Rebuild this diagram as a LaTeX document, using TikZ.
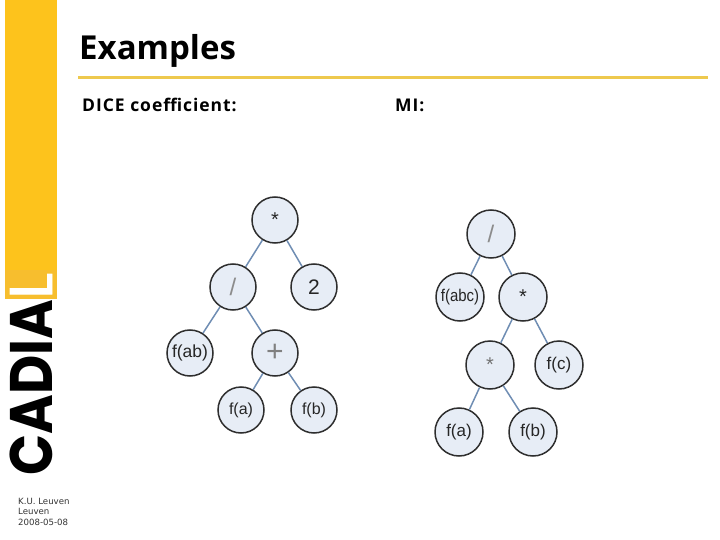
\documentclass[tikz,border=0pt]{standalone}
\usepackage{fontspec}
\setmainfont{Liberation Sans}
\newfontfamily\headfont{Open Sans}
\newfontfamily\bodyfont[LetterSpace=5.5]{Open Sans}
\newfontfamily\smallfont{DejaVu Sans}
\newfontfamily\logofont{Poppins}
\newfontfamily\logolight[FakeBold=1.6]{Poppins}
\definecolor{barY}{HTML}{FDC31C}
\definecolor{boxY}{HTML}{F7BE2E}
\definecolor{ruleY}{HTML}{EEC94E}
\definecolor{treeF}{HTML}{E7EDF6}
\definecolor{treeE}{HTML}{6F8DB3}
\definecolor{treeB}{HTML}{2E2E2E}
\tikzset{
  tnode/.style={circle,draw=treeB,line width=1.5pt,fill=treeF,minimum size=46pt,inner sep=0pt,text=black!85,font=\fontsize{16}{18}\selectfont},
  rnode/.style={tnode,minimum size=48pt,font=\fontsize{17}{19}\selectfont},
  tedge/.style={draw=treeE,line width=1.5pt},
  smalltext/.style={anchor=base west,inner sep=0pt,font=\smallfont\fontsize{8.6}{10}\selectfont,text=black!80},
  bodytext/.style={anchor=base west,inner sep=0pt,font=\bodyfont\bfseries\fontsize{17.5}{20}\selectfont}
}
\begin{document}
\begin{tikzpicture}[x=1pt,y=-1pt]
\useasboundingbox (0,0) rectangle (720,540);
\fill[barY] (5,0) rectangle (57,270);
\fill[boxY] (5,270) rectangle (57,299);
\draw[ruleY,line width=3pt] (78,78) -- (708,78);
\node[anchor=base west,inner sep=0pt,font=\headfont\bfseries\fontsize{33}{36}\selectfont] (title) at (79,60) {Examples};
\node[bodytext] (dice) at (82,112) {DICE coefficient:};
\node[bodytext] (mi) at (395,112) {MI:};
% logo
\node[anchor=base west,inner sep=0pt,rotate=90,xscale=0.9,font=\logofont\bfseries\fontsize{60}{60}\selectfont] (logo) at (52,476) {CADIA};
\node[anchor=base west,inner sep=0pt,rotate=90,text=white,font=\logolight\fontsize{60}{60}\selectfont] (logol) at (52,299) {L};
\node[smalltext] (ku) at (18,504) {K.U. Leuven};
\node[smalltext] (lv) at (18,514) {Leuven};
\node[smalltext] (dt) at (18,525) {2008-05-08};
% left tree
\node[tnode] (a1) at (275,220) {\fontsize{20}{22}\selectfont *};
\node[tnode] (a2) at (233,287) {\fontsize{24}{26}\selectfont\color{black!45}/};
\node[tnode,font=\fontsize{21}{23}\selectfont] (a3) at (314,287) {2};
\node[tnode,font=\fontsize{17.5}{19}\selectfont] (a4) at (190,353) {f(ab)};
\node[tnode,font=\fontsize{30}{32}\selectfont,text=black!50] (a5) at (275,353) {+};
\node[tnode] (a6) at (241,410) {f(a)};
\node[tnode] (a7) at (314,410) {f(b)};
\draw[tedge] (a1) -- (a2);
\draw[tedge] (a1) -- (a3);
\draw[tedge] (a2) -- (a4);
\draw[tedge] (a2) -- (a5);
\draw[tedge] (a5) -- (a6);
\draw[tedge] (a5) -- (a7);
% right tree
\node[rnode] (b1) at (491,234) {\fontsize{24}{26}\selectfont\color{black!45}/};
\node[rnode] (b2) at (460,297) {\scalebox{.88}[1]{f(abc)}};
\node[rnode] (b3) at (523,297) {\fontsize{20}{22}\selectfont *};
\node[rnode] (b4) at (490,365) {\fontsize{20}{22}\selectfont\color{black!55}*};
\node[rnode] (b5) at (559,365) {f(c)};
\node[rnode] (b6) at (459,432) {f(a)};
\node[rnode] (b7) at (533,432) {f(b)};
\draw[tedge] (b1) -- (b2);
\draw[tedge] (b1) -- (b3);
\draw[tedge] (b3) -- (b4);
\draw[tedge] (b3) -- (b5);
\draw[tedge] (b4) -- (b6);
\draw[tedge] (b4) -- (b7);
\end{tikzpicture}
\end{document}
